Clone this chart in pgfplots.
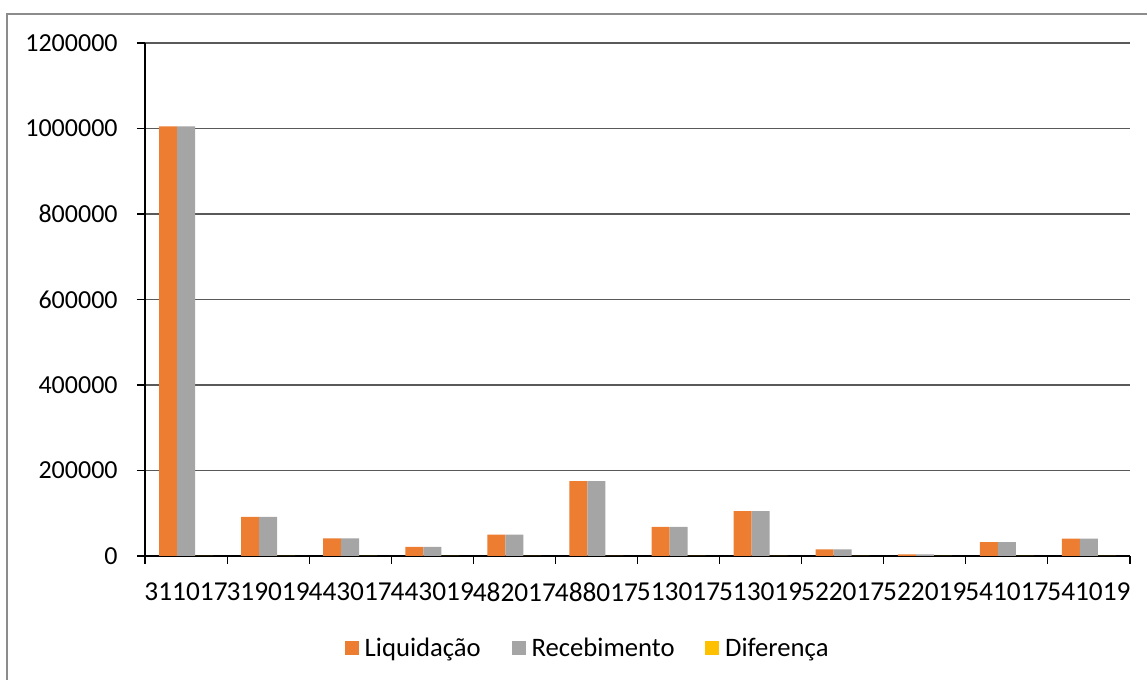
\documentclass[border=0pt]{standalone}
\usepackage{fontspec}
\setmainfont{Carlito}
\usepackage{pgfplots}
\pgfplotsset{compat=1.18}

\definecolor{liqorange}{HTML}{ED7D31}
\definecolor{recgray}{HTML}{A5A5A5}
\definecolor{difyellow}{HTML}{FFC000}
\definecolor{gridgray}{HTML}{595959}
\definecolor{framegray}{HTML}{8C8C8C}

\begin{document}
\begin{tikzpicture}[font=\fontsize{19.5}{23}\selectfont]
\begin{axis}[
  at={(0pt,0pt)}, anchor=south west,
  scale only axis,
  width=738.75pt, height=384.75pt,
  ybar=0pt, bar width=13.5pt,
  xmin=-0.5, xmax=11.5,
  ymin=0, ymax=1200000,
  enlargelimits=false,
  axis lines=left,
  axis line style={-, black, line width=0.8pt},
  xtick={0,...,11},
  xticklabels={311017,319019,443017,443019,482017,488017,513017,513019,522017,522019,541017,541019},
  minor xtick={-0.5,0.5,...,11.5},
  major x tick style={draw=none},
  minor x tick style={black, line width=0.8pt},
  minor tick length=6pt,
  major tick length=6pt,
  tick align=outside,
  ytick={0,200000,...,1200000},
  ytick style={black, line width=0.8pt},
  ymajorgrids,
  grid style={gridgray, line width=0.9pt},
  yticklabel style={xshift=-11pt, /pgf/number format/fixed, /pgf/number format/1000 sep={}, /pgf/number format/assume math mode=true},
  scaled y ticks=false,
  xticklabel style={inner xsep=0pt, yshift=-10.5pt, font=\fontsize{20.5}{24}\selectfont},
  clip=false,
  legend columns=3,
  legend style={at={(axis description cs:0.4497,-0.1793)}, anchor=center, draw=none, fill=none,
    font=\fontsize{20}{24}\selectfont,
    /tikz/every even column/.append style={column sep=21pt}},
  legend image code/.code={\fill[#1] (0pt,-5.25pt) rectangle (10.5pt,5.25pt); \path (13pt,0pt);},
]
\addplot[fill=liqorange, draw=none] coordinates {
  (0,1005000) (1,91500) (2,41500) (3,21500) (4,50000) (5,175000)
  (6,68000) (7,105000) (8,15500) (9,4000) (10,32500) (11,40500)};
\addplot[fill=recgray, draw=none] coordinates {
  (0,1005000) (1,91500) (2,41500) (3,21500) (4,50000) (5,175000)
  (6,68000) (7,105000) (8,15500) (9,4000) (10,32500) (11,40500)};
\addplot[fill=difyellow, draw=none] coordinates {
  (0,0) (1,0) (2,0) (3,0) (4,0) (5,0)
  (6,0) (7,0) (8,0) (9,0) (10,0) (11,0)};
\legend{Liquidação,Recebimento,Diferença}
\end{axis}
% chart area border (left and top edges)
\draw[framegray, line width=0.9pt] (-103.5pt,-93pt) -- (-103.5pt,406.5pt) -- (751.5pt,406.5pt);
\pgfresetboundingbox
\useasboundingbox (-108.75pt,-93pt) rectangle (751.5pt,417pt);
\end{tikzpicture}
\end{document}
